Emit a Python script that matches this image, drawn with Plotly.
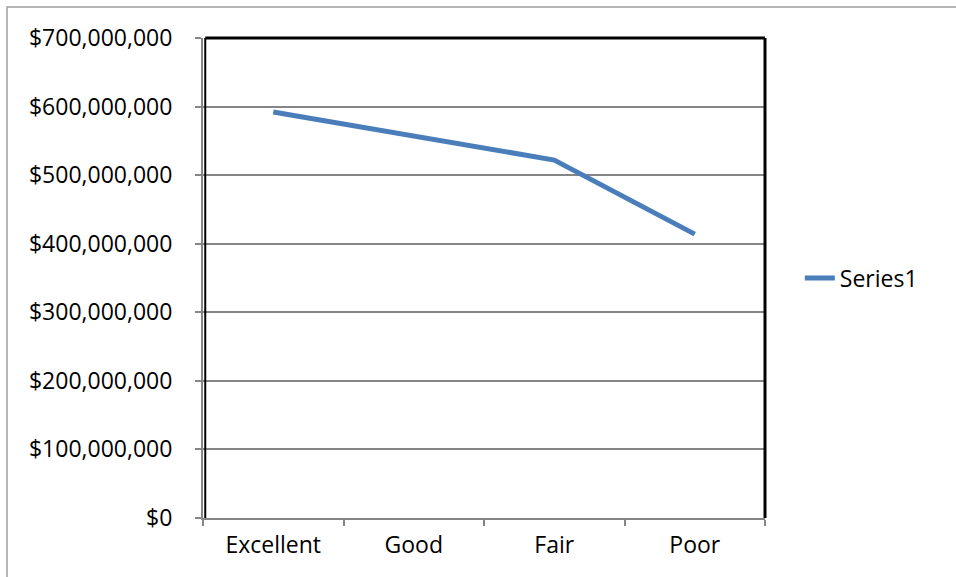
import plotly.graph_objects as go

categories = ["Excellent", "Good", "Fair", "Poor"]
values = [592000000, 557000000, 522000000, 414000000]
series_name = "Series1"
y_ticks = [0, 100000000, 200000000, 300000000, 400000000, 500000000, 600000000, 700000000]
y_tick_labels = ["$0", "$100,000,000", "$200,000,000", "$300,000,000", "$400,000,000",
                 "$500,000,000", "$600,000,000", "$700,000,000"]

FONT = "Open Sans"
FS = 23

fig = go.Figure()
fig.add_trace(go.Scatter(
    x=categories, y=values, mode="lines", name=series_name,
    line=dict(color="#4a7ebb", width=5),
))

fig.update_layout(
    width=956, height=577,
    margin=dict(l=203, r=191, t=38, b=59),
    paper_bgcolor="white", plot_bgcolor="white",
    font=dict(family=FONT, size=FS, color="black"),
    showlegend=True,
    legend=dict(x=1.062, y=0.5, xanchor="left", yanchor="middle",
                font=dict(family=FONT, size=FS, color="black"),
                bgcolor="rgba(0,0,0,0)"),
    xaxis=dict(
        type="category", range=[-0.5, 3.5],
        showgrid=False, showline=True, linecolor="#868686", linewidth=2,
        ticks="outside", tickson="boundaries", ticklen=6, tickcolor="#868686", tickwidth=1.5,
        ticklabelstandoff=5,
    ),
    yaxis=dict(
        range=[0, 700000000], tickvals=y_ticks, ticktext=y_tick_labels,
        showgrid=True, gridcolor="#868686", gridwidth=1.5,
        showline=True, linecolor="#868686", linewidth=2,
        ticks="outside", ticklen=6, tickcolor="#868686", tickwidth=1.5,
        ticklabelstandoff=18, zeroline=False,
    ),
    shapes=[
        dict(type="line", xref="paper", yref="paper", x0=0.004, x1=1, y0=1, y1=1,
             line=dict(color="black", width=3), layer="above"),
        dict(type="line", xref="paper", yref="paper", x0=1, x1=1, y0=0, y1=1,
             line=dict(color="black", width=3), layer="above"),
        dict(type="line", xref="paper", yref="paper", x0=0.004, x1=0.004, y0=0, y1=1,
             line=dict(color="black", width=2), layer="above"),
        dict(type="rect", xref="paper", yref="paper",
             x0=(7 - 203) / 562, x1=(975 - 203) / 562, y0=(518 - 600) / 480, y1=(518 - 7) / 480,
             line=dict(color="#a0a0a0", width=1.5), layer="above"),
    ],
)

fig.write_html("out.html")
